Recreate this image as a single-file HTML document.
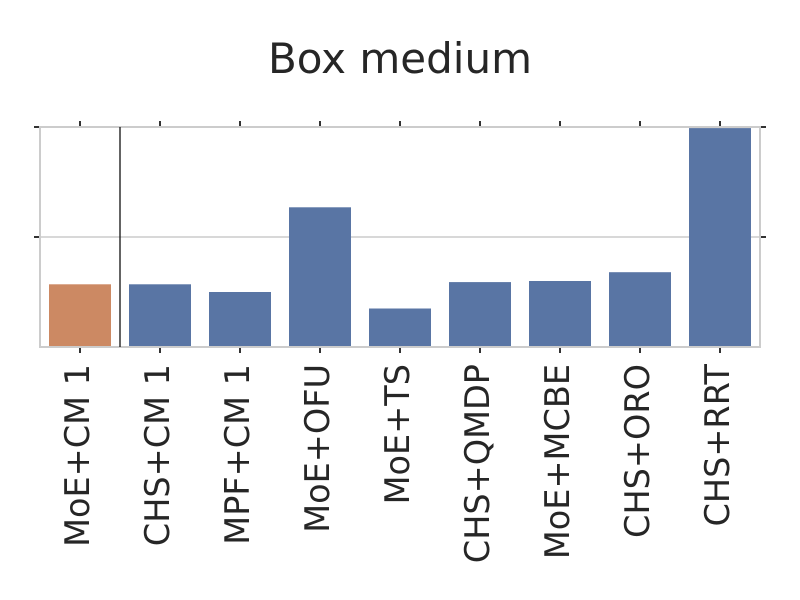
<!DOCTYPE html>
<html><head><meta charset="utf-8"><style>
body{margin:0;background:#fff}
svg{display:block;font-family:"DejaVu Sans","Liberation Sans",sans-serif}
</style></head><body>
<svg id="chart" width="800" height="600">
<text x="400" y="73" text-anchor="middle" font-size="42" fill="#262626">Box medium</text>
<g id="grid"></g><g id="bars"></g><g id="ticks"></g><g id="labels"></g>
<rect x="40" y="127" width="720" height="220" fill="none" stroke="#cccccc" stroke-width="2"/>
<line x1="120" y1="127" x2="120" y2="347" stroke="#111" stroke-width="1.3"/>
</svg>
<script>
const categories=["MoE+CM 1","CHS+CM 1","MPF+CM 1","MoE+OFU","MoE+TS","CHS+QMDP","MoE+MCBE","CHS+ORO","CHS+RRT"];
const values=[0.57,0.57,0.50,1.27,0.35,0.59,0.60,0.68,1.99];
const yTicks=[0,1,2];
const colors=["#cc8963","#5975a4"];
const L=40,R=760,T=127,B=347,yMax=2;
const ns="http://www.w3.org/2000/svg";
const bw=(R-L)/categories.length;
const xs=i=>L+bw*(i+0.5);
const ys=v=>B-(v/yMax)*(B-T);
function mk(tag,attrs,parent){const e=document.createElementNS(ns,tag);for(const k in attrs)e.setAttribute(k,attrs[k]);document.getElementById(parent).appendChild(e);return e;}
yTicks.forEach((t,i)=>{
  const y=ys(t);
  if(t>0&&t<yMax){const g=mk("line",{x1:L,x2:R,y1:y,y2:y,stroke:"#cccccc","stroke-width":1.5},"grid");
  
  }
  if(t>0){
  const a=mk("line",{x1:L-6,x2:L,y1:y,y2:y,stroke:"#333","stroke-width":2},"ticks");
  
  
  const b=mk("line",{x1:R,x2:R+6,y1:y,y2:y,stroke:"#333","stroke-width":2},"ticks");
  
  }
});
categories.forEach((c,i)=>{
  const x=xs(i);
  const r=mk("rect",{x:x-31,y:ys(values[i]),width:62,height:B-ys(values[i]),fill:i===0?colors[0]:colors[1]},"bars");
  
  
  const t1=mk("line",{x1:x,x2:x,y1:T-6,y2:T,stroke:"#333","stroke-width":2},"ticks");
  
  
  const t2=mk("line",{x1:x,x2:x,y1:B,y2:B+6,stroke:"#333","stroke-width":2},"ticks");
  
  
  const lb=mk("text",{x:0,y:0,transform:`translate(${x+9},364) rotate(-90)`,"text-anchor":"end","font-size":"33.5",fill:"#262626"},"labels");
  lb.textContent=c;
  
  
});
</script>
</body></html>
